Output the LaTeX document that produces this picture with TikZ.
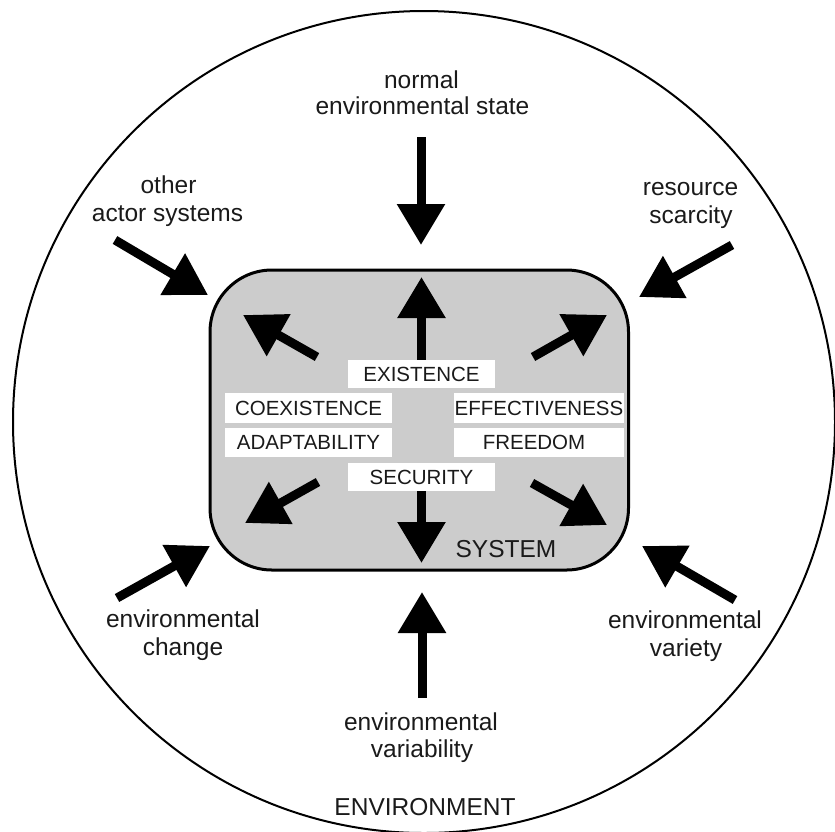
\documentclass[tikz,border=0pt]{standalone}
\usepackage{fontspec}
\setmainfont{Liberation Sans}
\usetikzlibrary{arrows.meta}
\definecolor{sysgray}{HTML}{CCCCCC}
\definecolor{ink}{HTML}{1A1A1A}
\begin{document}
\begin{tikzpicture}[x=1pt,y=-1pt,
  outer/.style={font=\fontsize{24.5}{28}\selectfont, text=ink, anchor=base, inner sep=0pt},
  tag/.style={fill=white, font=\fontsize{20.5}{24}\selectfont, text=ink, inner sep=0pt},
  push/.style={line width=9pt, -{Triangle[width=46pt,length=41pt]}},
]
\useasboundingbox (0,0) rectangle (835,831);

% environment boundary and system box
\node[circle, draw, line width=2pt, minimum size=822pt, inner sep=0pt] (env) at (424,422) {};
\node[draw, line width=3pt, fill=sysgray, rounded corners=62pt,
      minimum width=418.5pt, minimum height=300pt, inner sep=0pt] (sys) at (419.25,420) {};

% orientors inside the system
\node[tag, minimum width=147pt, minimum height=28pt] (existence)     at (421.5,374)   {EXISTENCE};
\node[tag, minimum width=167pt, minimum height=30pt] (coexistence)   at (308.5,408)   {COEXISTENCE};
\node[tag, minimum width=167pt, minimum height=29pt] (adaptability)  at (308.5,442.5) {ADAPTABILITY};
\node[tag, minimum width=170pt, minimum height=30pt] (effectiveness) at (539,408)     {EFFECTIVENESS};
\node[tag, minimum width=170pt, minimum height=29pt] (freedomBox)    at (539,442.5)   {};
\node[font=\fontsize{20.5}{24}\selectfont, text=ink, inner sep=0pt] (freedom) at (534,442.5) {FREEDOM};
\node[tag, minimum width=147pt, minimum height=28pt] (security)      at (421.5,477)   {SECURITY};

\node[outer] (systxt) at (506,557) {SYSTEM};
\node[outer] (envtxt) at (425,815) {ENVIRONMENT};

% environmental property labels
\node[outer] (normA) at (421.5,88)  {normal};
\node[outer] (normB) at (422.5,114) {environmental state};
\node[outer] (actA)  at (168.5,193) {other};
\node[outer] (actB)  at (167.5,221) {actor systems};
\node[outer] (resA)  at (690.5,195) {resource};
\node[outer] (resB)  at (691,223)   {scarcity};
\node[outer] (chgA)  at (183,627)   {environmental};
\node[outer] (chgB)  at (183,655)   {change};
\node[outer] (varA)  at (685,628)   {environmental};
\node[outer] (varB)  at (686,656)   {variety};
\node[outer] (vblA)  at (421,730)   {environmental};
\node[outer] (vblB)  at (422,757)   {variability};

% arrow end points
\coordinate (nTail) at (421,137);  \coordinate (nTip) at (421,245);
\coordinate (aTail) at (115,240);  \coordinate (aTip) at (208,295);
\coordinate (rTail) at (732,245);  \coordinate (rTip) at (639,297);
\coordinate (cTail) at (117,598);  \coordinate (cTip) at (210,546);
\coordinate (vTail) at (735,600);  \coordinate (vTip) at (642,546);
\coordinate (bTail) at (422,698);  \coordinate (bTip) at (422,592);

\coordinate (upTip)   at (421.5,277);
\coordinate (downTip) at (421.5,563);
\coordinate (ulTail) at (317,357); \coordinate (ulTip) at (243,315);
\coordinate (urTail) at (533,357); \coordinate (urTip) at (607,315);
\coordinate (llTail) at (318,482); \coordinate (llTip) at (245,523);
\coordinate (lrTail) at (532,483); \coordinate (lrTip) at (607,525);

% environment acting on the system
\draw[push] (nTail) -- (nTip);
\draw[push] (aTail) -- (aTip);
\draw[push] (rTail) -- (rTip);
\draw[push] (cTail) -- (cTip);
\draw[push] (vTail) -- (vTip);
\draw[push] (bTail) -- (bTip);

% system acting on the environment
\draw[push] (existence.north) -- (upTip);
\draw[push] (security.south) -- (downTip);
\draw[push] (ulTail) -- (ulTip);
\draw[push] (urTail) -- (urTip);
\draw[push] (llTail) -- (llTip);
\draw[push] (lrTail) -- (lrTip);
\end{tikzpicture}
\end{document}
